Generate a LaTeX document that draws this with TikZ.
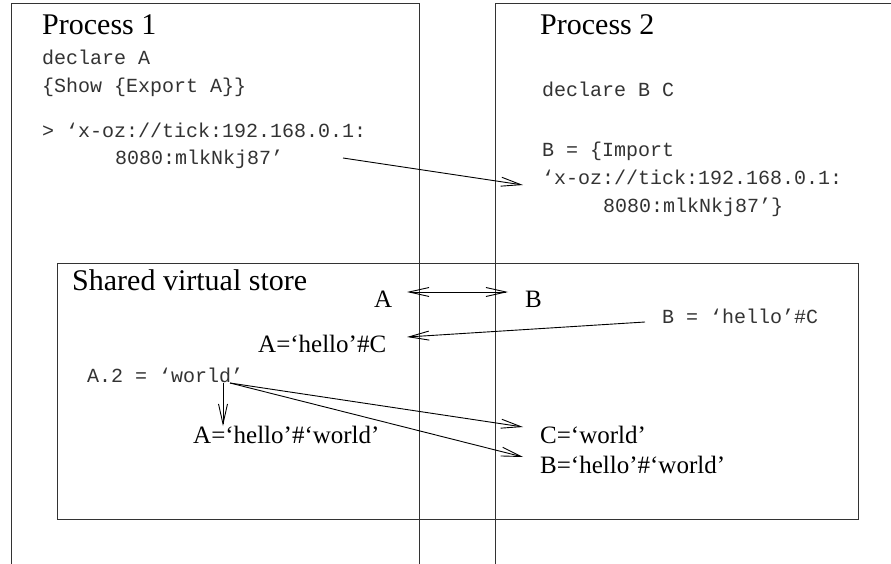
\documentclass[tikz,border=0pt]{standalone}
\usepackage{fontspec}
\setmainfont{Liberation Serif}
\setmonofont{Liberation Mono}
\usetikzlibrary{arrows.meta}
\begin{document}
\begin{tikzpicture}[x=1bp,y=-1bp,
  frame/.style={line width=1bp,draw=black!80},
  title/.style={anchor=base west,inner sep=0pt,font=\fontsize{30bp}{35bp}\selectfont},
  lab/.style={anchor=base west,inner sep=0pt,font=\fontsize{25bp}{30bp}\selectfont},
  code/.style={anchor=base west,inner sep=0pt,font=\ttfamily\fontsize{20bp}{24bp}\selectfont,text=black!80},
  conn/.style={line width=0.9bp,-{Straight Barb[length=20bp,width=9bp,line width=0.9bp]}},
  dconn/.style={line width=0.9bp,{Straight Barb[length=20bp,width=9bp,line width=0.9bp]}-{Straight Barb[length=20bp,width=9bp,line width=0.9bp]}}]
\useasboundingbox (0,0) rectangle (891,564);
\fill[white] (0,0) rectangle (891,564);
% process frames (open at bottom and right)
\draw[frame] (11.5,570) -- (11.5,4) -- (419.5,4) -- (419.5,570);
\draw[frame] (495,570) -- (495,4) -- (900,4);
% shared store
\draw[frame] (57,263) rectangle (858,519);
% Process 1
\node[title] (p1) at (42,35) {Process 1};
\node[code] (p1a) at (42,65) {declare A};
\node[code] (p1b) at (42,93) {\{Show \{Export A\}\}};
\node[code] (p1c) at (42,138) {> ‘x-oz://tick:192.168.0.1:};
\node[code] (p1d) at (115,165) {8080:mlkNkj87’};
% Process 2
\node[title] (p2) at (540,35) {Process 2};
\node[code] (p2a) at (542,97) {declare B C};
\node[code] (p2b) at (542,157) {B = \{Import};
\node[code] (p2c) at (542,185) {‘x-oz://tick:192.168.0.1:};
\node[code] (p2d) at (603,213) {8080:mlkNkj87’\}};
% Store
\node[title] (st) at (72,290) {Shared virtual store};
\node[lab] (sa) at (374,307) {A};
\node[lab] (sb) at (525,307) {B};
\node[code] (bh) at (662,323) {B = ‘hello’\#C};
\node[lab] (ah) at (258,352) {A=‘hello’\#C};
\node[code] (a2) at (87,382) {A.2 = ‘world’};
\node[lab] (ahw) at (193,443) {A=‘hello’\#‘world’};
\node[lab] (cw) at (540,443) {C=‘world’};
\node[lab] (bhw) at (540,473) {B=‘hello’\#‘world’};
% connector ends
\coordinate (e1s) at (343,158);
\coordinate (e1t) at (523,185);
\coordinate (dA) at (407,292);
\coordinate (dB) at (508,292);
\coordinate (e3s) at (645,322);
\coordinate (e3t) at (407,337);
\coordinate (e4s) at (223,383);
\coordinate (e4t) at (223,426);
\coordinate (e5s) at (230,383);
\coordinate (e5t) at (523,427);
\coordinate (e6t) at (523,457);
\draw[conn] (e1s) -- (e1t);
\draw[dconn] (dA) -- (dB);
\draw[conn] (e3s) -- (e3t);
\draw[conn] (e4s) -- (e4t);
\draw[conn] (e5s) -- (e5t);
\draw[conn] (e5s) -- (e6t);
\end{tikzpicture}
\end{document}
